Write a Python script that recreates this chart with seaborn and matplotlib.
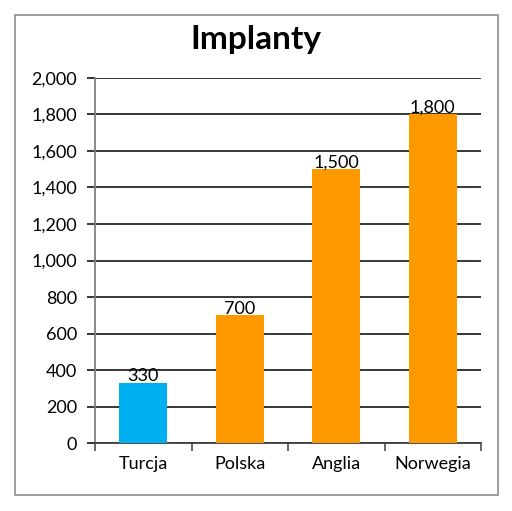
import matplotlib
matplotlib.use("Agg")
import matplotlib.pyplot as plt
import seaborn as sns
import pandas as pd
from matplotlib.ticker import FuncFormatter, FixedLocator
from matplotlib.patches import Rectangle

categories = ["Turcja", "Polska", "Anglia", "Norwegia"]
values = [330, 700, 1500, 1800]
bar_colors = ["#00B0F0", "#FF9900", "#FF9900", "#FF9900"]
title = "Implanty"

sns.set_theme(style="white")
plt.rcParams['font.family'] = ['Lato', 'DejaVu Sans']

df = pd.DataFrame({"kraj": categories, "wartosc": values})

fig = plt.figure(figsize=(5.12, 5.11), dpi=100)
fig.patch.set_facecolor("white")
ax = fig.add_axes([95/512, 1 - 443/511, (481-95)/512, (443-78)/511])

sns.barplot(data=df, x="kraj", y="wartosc", hue="kraj", palette=bar_colors,
            legend=False, width=0.5, saturation=1, ax=ax, zorder=3, linewidth=0)

ax.set_ylim(0, 2000)
ax.set_xlim(-0.5, 3.5)
ax.set_yticks(range(0, 2001, 200))
ax.yaxis.set_major_formatter(FuncFormatter(lambda v, p: f"{int(v):,}"))
ax.grid(axis="y", color="black", linewidth=1.1, zorder=0)
ax.set_axisbelow(True)
ax.set_xlabel("")
ax.set_ylabel("")
for s in ["top", "right"]:
    ax.spines[s].set_visible(False)
ax.spines["left"].set_color("#808080")
ax.spines["left"].set_linewidth(1.3)
ax.spines["bottom"].set_color("#404040")
ax.spines["bottom"].set_linewidth(1.3)

ax.tick_params(axis="y", which="major", length=6, width=1.1, color="black",
               labelsize=13, pad=7, left=True)
ax.tick_params(axis="x", which="major", length=0, labelsize=13, pad=9)
ax.xaxis.set_minor_locator(FixedLocator([-0.5, 0.5, 1.5, 2.5, 3.5]))
ax.tick_params(axis="x", which="minor", length=6, width=1.1, color="#404040", bottom=True)
for lbl in ax.get_xticklabels() + ax.get_yticklabels():
    lbl.set_color("black")

for container in ax.containers:
    ax.bar_label(container, labels=[f"{int(v):,}" for v in container.datavalues],
                 fontsize=13, padding=-1, color="black")

fig.text(0.5, 1 - 40/511, title, ha="center", va="center", fontsize=24,
         fontweight="bold", color="black")

fig.patches.append(Rectangle((15/512, 1 - 495/511), (498-15)/512, (495-15)/511,
                             transform=fig.transFigure, fill=False,
                             edgecolor="#8c8c8c", linewidth=1.2))

fig.savefig("out.png", dpi=100, facecolor="white")
